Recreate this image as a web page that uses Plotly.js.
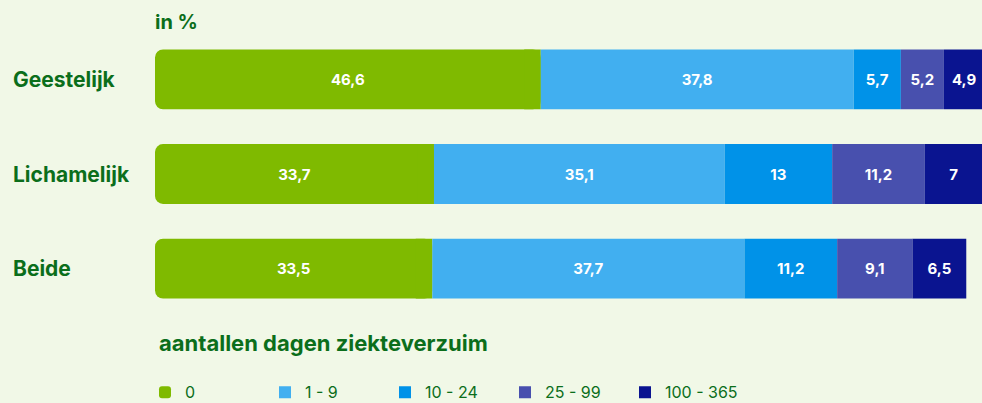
<!DOCTYPE html>
<html>
<head>
<meta charset="utf-8">
<script src="https://cdn.plot.ly/plotly-3.0.1.min.js"></script>
<style>
  html, body { margin: 0; padding: 0; background: #f1f8e7; }
  #chart { width: 982px; height: 403px; }
</style>
</head>
<body>
<div id="chart"></div>
<script>
const categories = ['Geestelijk', 'Lichamelijk', 'Beide'];
const groupNames = ['0', '1 - 9', '10 - 24', '25 - 99', '100 - 365'];
const days0 = [46.6, 33.7, 33.5];
const days1to9 = [37.8, 35.1, 37.7];
const days10to24 = [5.7, 13, 11.2];
const days25to99 = [5.2, 11.2, 9.1];
const days100to365 = [4.9, 7, 6.5];

const seriesValues = [days0, days1to9, days10to24, days25to99, days100to365];
const colors = ['#7fba00', '#41aff0', '#0092e8', '#4850ae', '#0a1490'];
const darkGreen = '#0b6e1b';
const FONT = 'Inter, "Open Sans", sans-serif';
const AXIS_MAX = 99.9;
const SQUARE_END = 2;   // width (in %) of the square cap that hides the right-hand rounding of the first segment

function fmt(v) { return String(v).replace('.', ','); }

const cumulative = categories.map(() => 0);
const traces = [];
seriesValues.forEach((vals, i) => {
  const t = {
    type: 'bar',
    orientation: 'h',
    name: groupNames[i],
    y: categories,
    x: vals.slice(),
    base: cumulative.slice(),
    text: vals.map(fmt),
    textposition: 'inside',
    insidetextanchor: 'middle',
    textangle: 0,
    texttemplate: '%{text}',
    textfont: { family: FONT, size: 15, color: '#ffffff', weight: 'bold' },
    marker: { color: colors[i], line: { width: 0 } },
    hoverinfo: 'name+text'
  };
  if (i === 0) t.marker.cornerradius = 8;
  traces.push(t);
  if (i === 0) {
    // square-ended cap over the right end of the first segment (only the left end stays rounded)
    traces.push({
      type: 'bar', orientation: 'h', name: groupNames[i], showlegend: false,
      y: categories,
      x: vals.map(() => SQUARE_END),
      base: vals.map((v, k) => cumulative[k] + v - SQUARE_END),
      marker: { color: colors[i], line: { width: 0 } },
      textposition: 'none', hoverinfo: 'skip'
    });
  }
  vals.forEach((v, k) => { cumulative[k] += v; });
});

const annotations = categories.map(c => ({
  xref: 'paper', yref: 'y',
  x: (11 - 155) / 827, y: c,
  xanchor: 'left', yanchor: 'middle',
  text: c, showarrow: false,
  font: { family: FONT, size: 21, color: darkGreen, weight: 'bold' }
}));
annotations.push({
  xref: 'paper', yref: 'paper',
  x: (157 - 155) / 827, y: -27 / 285,
  xanchor: 'left', yanchor: 'middle',
  text: 'aantallen dagen ziekteverzuim', showarrow: false,
  font: { family: FONT, size: 22, color: darkGreen, weight: 'bold' }
});

const layout = {
  width: 982, height: 403,
  paper_bgcolor: '#f1f8e7',
  plot_bgcolor: '#f1f8e7',
  margin: { l: 155, r: 0, t: 31.5, b: 86.5, autoexpand: false },
  barmode: 'overlay',
  bargap: 0.368,
  title: {
    text: 'in %',
    xref: 'paper', x: 0, xanchor: 'left',
    yref: 'container', y: 1 - 22 / 403, yanchor: 'middle',
    font: { family: FONT, size: 20, color: darkGreen, weight: 'bold' }
  },
  xaxis: {
    range: [0, AXIS_MAX], showgrid: false, zeroline: false,
    showticklabels: false, showline: false, fixedrange: true
  },
  yaxis: {
    type: 'category', categoryorder: 'array', categoryarray: categories,
    autorange: 'reversed', showgrid: false, zeroline: false,
    showticklabels: false, showline: false, fixedrange: true
  },
  showlegend: true,
  legend: {
    orientation: 'h',
    x: -10 / 827, xanchor: 'left',
    y: -(376 - 316.5) / 285, yanchor: 'top',
    traceorder: 'normal',
    entrywidth: 75,
    bgcolor: 'rgba(0,0,0,0)',
    font: { family: FONT, size: 16, color: darkGreen }
  },
  annotations: annotations
};

Plotly.newPlot('chart', traces, layout, { displayModeBar: false, staticPlot: true });
</script>
</body>
</html>
